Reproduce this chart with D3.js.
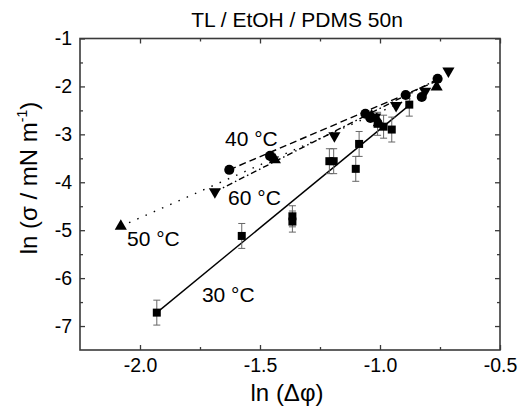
<!DOCTYPE html>
<html><head><meta charset="utf-8">
<script src="https://cdn.jsdelivr.net/npm/d3@7"></script>
<style>body{margin:0;background:#fff}svg{display:block}text{font-family:Arial,"Liberation Sans",sans-serif}</style>
</head><body>
<svg id="c" width="520" height="407"></svg>
<script>
const title = "TL / EtOH / PDMS 50n";
const xMajor = [-2.0, -1.5, -1.0, -0.5];
const xMinor = [-1.75, -1.25, -0.75];
const yMajor = [-1, -2, -3, -4, -5, -6, -7];
const yMinor = [-1.5, -2.5, -3.5, -4.5, -5.5, -6.5];

// 30 °C (squares, with error bars)
const s30x = [-1.930, -1.576, -1.365, -1.365, -1.211, -1.193, -1.101, -1.087, -1.010, -0.985, -0.951, -0.878];
const s30y = [-6.72, -5.12, -4.71, -4.82, -3.56, -3.56, -3.72, -3.20, -2.78, -2.84, -2.90, -2.38];
const s30e = [0.26, 0.26, 0.22, 0.22, 0.26, 0.26, 0.26, 0.26, 0.24, 0.24, 0.26, 0.24];
// 40 °C (circles)
const s40x = [-1.628, -1.458, -1.061, -1.040, -0.893, -0.826, -0.760];
const s40y = [-3.74, -3.45, -2.57, -2.66, -2.18, -2.22, -1.84];
// 50 °C (up triangles)
const s50x = [-2.080, -1.438, -1.035, -1.005, -0.764];
const s50y = [-4.92, -3.53, -2.62, -2.76, -2.01];
// 60 °C (down triangles)
const s60x = [-1.688, -1.190, -1.020, -0.933, -0.812, -0.715];
const s60y = [-4.20, -3.03, -2.64, -2.40, -2.10, -1.68];

// fit lines (end points)
const fit30 = [[-1.930, -6.72], [-0.880, -2.40]];
const fit40 = [[-1.628, -3.74], [-0.760, -1.88]];
const fit50 = [[-2.080, -4.92], [-0.764, -2.01]];
const fit60 = [[-1.688, -4.20], [-0.760, -1.85]];

const labels = [
  {t: "40 °C", x: -1.646, y: -3.25},
  {t: "60 °C", x: -1.633, y: -4.47},
  {t: "50 °C", x: -2.054, y: -5.34},
  {t: "30 °C", x: -1.742, y: -6.49}
];

const svg = d3.select("#c");
const L = 80, R = 500, T = 38.5, B = 350;
const x = d3.scaleLinear([-2.25, -0.5], [L, R]);
const y = d3.scaleLinear([-7.5, -1], [B, T]);
const frameCol = "#3a3a3a";
const fs = 19.5;

function tickAxis(axisFn, scale, vals, size, tr, showLabels, fmt) {
  const a = axisFn(scale).tickValues(vals).tickSize(-size).tickPadding(8);
  a.tickFormat(showLabels ? fmt : () => "");
  const g = svg.append("g").attr("transform", tr).call(a);
  g.select(".domain").remove();
  g.selectAll("line").attr("stroke", frameCol).attr("stroke-width", 1.3);
  g.selectAll("text").attr("font-size", fs).attr("fill", "#000")
    .style("font-family", "Arial, 'Liberation Sans', sans-serif");
  return g;
}
const fx = d => d.toFixed(1);
const fy = d => String(d);
tickAxis(d3.axisBottom, x, xMajor, 5, `translate(0,${B})`, true, fx);
tickAxis(d3.axisBottom, x, xMinor, 3, `translate(0,${B})`, false);
tickAxis(d3.axisTop, x, xMajor, 5, `translate(0,${T})`, false);
tickAxis(d3.axisTop, x, xMinor, 3, `translate(0,${T})`, false);
tickAxis(d3.axisLeft, y, yMajor, 5, `translate(${L},0)`, true, fy);
tickAxis(d3.axisLeft, y, yMinor, 3, `translate(${L},0)`, false);
tickAxis(d3.axisRight, y, yMajor, 5, `translate(${R},0)`, false);
tickAxis(d3.axisRight, y, yMinor, 3, `translate(${R},0)`, false);

svg.append("rect").attr("x", L).attr("y", T).attr("width", R - L).attr("height", B - T)
  .attr("fill", "none").attr("stroke", frameCol).attr("stroke-width", 1.6);

// fit lines
const line = d3.line().x(d => x(d[0])).y(d => y(d[1]));
const fits = [
  {d: fit30, dash: null},
  {d: fit40, dash: "7,4"},
  {d: fit50, dash: "1.5,7.5"},
  {d: fit60, dash: "6,3,1.5,3"}
];
fits.forEach(f => {
  svg.append("path").attr("d", line(f.d)).attr("fill", "none")
    .attr("stroke", "#000").attr("stroke-width", 1.4)
    .attr("stroke-dasharray", f.dash);
});

// error bars for 30 °C
const eb = svg.append("g").attr("stroke", "#666").attr("stroke-width", 1);
s30x.forEach((xv, i) => {
  const cx = x(xv), y1 = y(s30y[i] - s30e[i]), y2 = y(s30y[i] + s30e[i]);
  eb.append("line").attr("x1", cx).attr("x2", cx).attr("y1", y1).attr("y2", y2);
  eb.append("line").attr("x1", cx - 3.5).attr("x2", cx + 3.5).attr("y1", y1).attr("y2", y1);
  eb.append("line").attr("x1", cx - 3.5).attr("x2", cx + 3.5).attr("y1", y2).attr("y2", y2);
});

// markers
const sym = (type, size) => d3.symbol().type(type).size(size)();
function markers(xs, ys, path, rot) {
  svg.append("g").selectAll("path").data(xs).join("path")
    .attr("d", path)
    .attr("transform", (d, i) => `translate(${x(d)},${y(ys[i])})${rot ? " rotate(180)" : ""}`)
    .attr("fill", "#000");
}
markers(s30x, s30y, sym(d3.symbolSquare, 64), false);
markers(s40x, s40y, sym(d3.symbolCircle, 80), false);
markers(s50x, s50y, sym(d3.symbolTriangle, 64), false);
markers(s60x, s60y, sym(d3.symbolTriangle, 64), true);

// temperature labels
svg.append("g").selectAll("text").data(labels).join("text")
  .attr("x", d => x(d.x)).attr("y", d => y(d.y))
  .attr("font-size", 21).attr("fill", "#000").text(d => d.t);

// title
svg.append("text").attr("x", 297).attr("y", 27).attr("text-anchor", "middle")
  .attr("font-size", 21).text(title);

// axis titles
svg.append("text").attr("x", 287).attr("y", 401).attr("text-anchor", "middle")
  .attr("font-size", 24).text("ln (Δφ)");
const yl = svg.append("text").attr("transform", `translate(37,178) rotate(-90)`)
  .attr("text-anchor", "middle").attr("font-size", 24);
yl.append("tspan").text("ln (σ / mN m");
yl.append("tspan").attr("font-size", 14).attr("dy", -10).text("-1");
yl.append("tspan").attr("dy", 10).text(")");
</script>
</body></html>
